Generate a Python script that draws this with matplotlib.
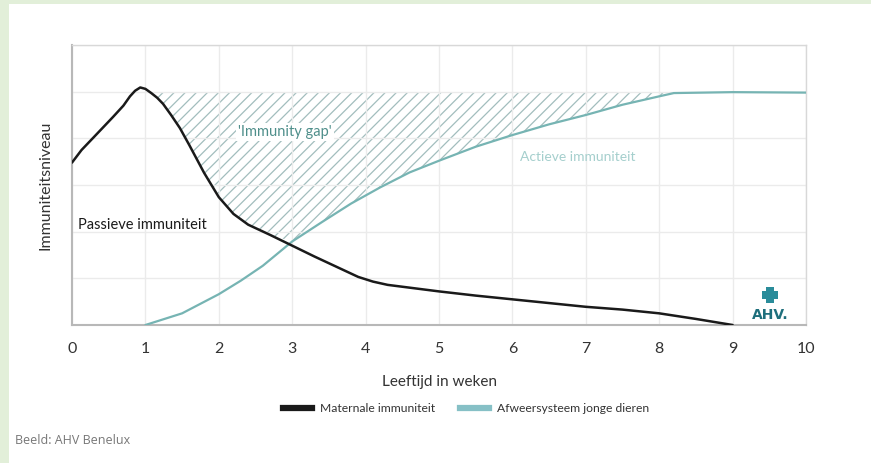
import numpy as np
import matplotlib
matplotlib.use("Agg")
import matplotlib.pyplot as plt
from matplotlib.patches import Rectangle
from matplotlib.lines import Line2D

# ---- data ----
weeks_ticks = list(range(0, 11))
black_x = [0, 0.13, 0.3, 0.56, 0.7, 0.79, 0.86, 0.93, 1.0, 1.08, 1.16, 1.24, 1.35, 1.47,
           1.6, 1.8, 2.0, 2.2, 2.4, 2.7, 3.0, 3.3, 3.6, 3.9, 4.1, 4.3, 4.6, 5.0, 5.5,
           6.0, 6.5, 7.0, 7.5, 8.0, 8.5, 9.0]
black_y = [3.48, 3.75, 4.03, 4.46, 4.7, 4.9, 5.02, 5.09, 5.06, 4.97, 4.87, 4.74, 4.5, 4.22,
           3.85, 3.26, 2.74, 2.38, 2.15, 1.93, 1.7, 1.47, 1.25, 1.03, 0.93, 0.86, 0.8, 0.72, 0.63,
           0.55, 0.47, 0.39, 0.33, 0.25, 0.13, 0.0]
teal_x = [1.0, 1.5, 2.0, 2.3, 2.6, 3.0, 3.4, 3.8, 4.2, 4.6, 5.0, 5.5, 6.0, 6.5,
          7.0, 7.5, 8.0, 8.2, 9.0, 10.0]
teal_y = [0.0, 0.25, 0.66, 0.95, 1.27, 1.79, 2.2, 2.6, 2.95, 3.27, 3.52, 3.82, 4.07, 4.3,
          4.5, 4.72, 4.9, 4.97, 4.99, 4.98]
gap_top = 4.98
series_labels = ["Maternale immuniteit", "Afweersysteem jonge dieren"]

BLACK = "#1a1a1a"
TEAL = "#76b4b3"
TEAL_LEG = "#86c0c6"
HATCH = "#a2bdbd"

plt.rcParams['font.family'] = ['Lato', 'DejaVu Sans']
plt.rcParams['hatch.linewidth'] = 0.9
plt.rcParams['hatch.color'] = HATCH

fig = plt.figure(figsize=(8.71, 4.63), dpi=100, facecolor="white")
W, H = 871, 463
# light green frame
fig.patches.append(Rectangle((0, 0), 9 / W, 1, transform=fig.transFigure,
                             facecolor="#e2efd9", edgecolor="none", zorder=-10))
fig.patches.append(Rectangle((0, 1 - 4 / H), 1, 4 / H, transform=fig.transFigure,
                             facecolor="#e2efd9", edgecolor="none", zorder=-10))

ax = fig.add_axes([72 / W, (H - 325) / H, (806 - 72) / W, (325 - 45) / H])
ax.set_xlim(0, 10)
ax.set_ylim(0, 6)

# hatch region ("immunity gap")
xs = np.union1d(black_x, teal_x)
lower = np.maximum(np.interp(xs, black_x, black_y),
                   np.interp(xs, teal_x, teal_y, left=0))
peak_x = black_x[int(np.argmax(black_y))]
mask = (lower < gap_top) & (xs >= peak_x)
ax.fill_between(xs, lower, gap_top, where=mask, facecolor="none",
                hatch="///", edgecolor=HATCH, linewidth=0, interpolate=True, zorder=1)

ax.plot(teal_x, teal_y, color=TEAL, lw=1.6, zorder=3, solid_capstyle="round",
        solid_joinstyle="round")
ax.plot(black_x, black_y, color=BLACK, lw=1.8, zorder=4, solid_capstyle="round",
        solid_joinstyle="round")

# grid & spines
ax.set_xticks(weeks_ticks)
ax.set_yticks(range(0, 7))
ax.set_yticklabels([])
ax.grid(True, color="#ebebeb", lw=1.0, zorder=0)
ax.tick_params(length=0, pad=12, labelsize=11.5, labelcolor="#333333")
for s in ["left", "bottom"]:
    ax.spines[s].set_color("#b8b8b8")
    ax.spines[s].set_linewidth(1.5)
for s in ["top", "right"]:
    ax.spines[s].set_color("#d8d8d8")
    ax.spines[s].set_linewidth(1.0)

ax.set_xlabel("Leeftijd in weken", fontsize=11, color="#333333", labelpad=14)
ax.set_ylabel("Immuniteitsniveau", fontsize=11.5, color="#333333", labelpad=2)

ax.text(2.9, 4.14, "'Immunity gap'", fontsize=10.5, color="#4f8f8b",
        ha="center", va="center",
        bbox=dict(facecolor="white", edgecolor="none", pad=1.5), zorder=2)
ax.text(0.08, 2.14, "Passieve immuniteit", fontsize=10.5, color=BLACK,
        ha="left", va="center")
ax.text(6.1, 3.6, "Actieve immuniteit", fontsize=10, color="#a5cfcd",
        ha="left", va="center")

# AHV logo
ax.text(0.951, 0.035, "AHV.", transform=ax.transAxes, fontsize=10, fontweight="bold",
        color="#1e6f7c", ha="center", va="center", family=["DejaVu Sans"])
gx, gy = np.meshgrid(np.arange(4) - 1.5, np.arange(4) - 1.5)
keep = ~((np.abs(gx) > 1) & (np.abs(gy) > 1))
ax.scatter(0.951 + gx[keep] * 0.0052, 0.107 + gy[keep] * 0.0135, transform=ax.transAxes,
           marker="s", s=6, color="#2a8c9a", linewidths=0, zorder=5, clip_on=False)

# legend
handles = [Line2D([], [], color=BLACK, lw=4.5),
           Line2D([], [], color=TEAL_LEG, lw=4.5)]
fig.legend(handles, series_labels, loc="center", bbox_to_anchor=(466 / W, 1 - 409 / H),
           ncol=2, frameon=False, fontsize=8.7, handlelength=2.4, columnspacing=2.1,
           handletextpad=0.65, labelcolor="#333333")

fig.text(15 / W, 1 - 441 / H, "Beeld: AHV Benelux", fontsize=9, color="#777777",
         ha="left", va="center", family=["Open Sans", "DejaVu Sans"])

fig.savefig("out.png", dpi=100, facecolor="white")
